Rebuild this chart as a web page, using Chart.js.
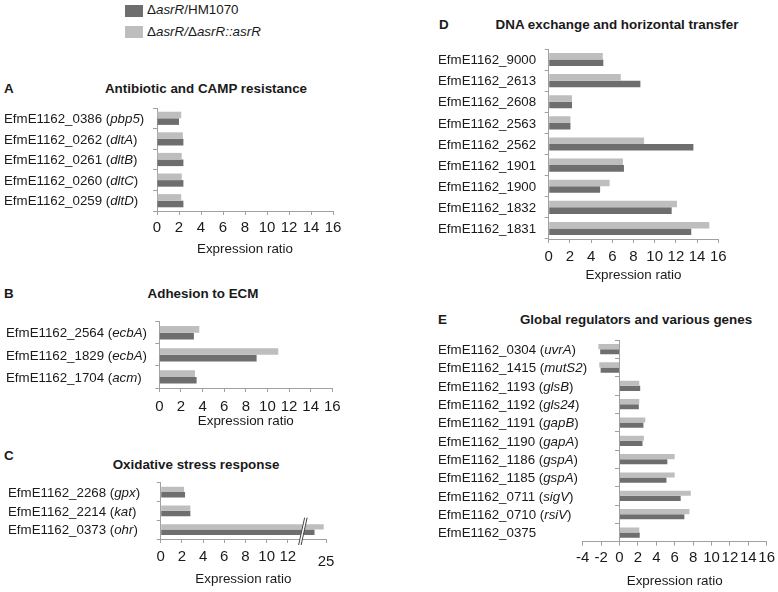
<!DOCTYPE html>
<html>
<head>
<meta charset="utf-8">
<script src="https://cdn.jsdelivr.net/npm/chart.js@4"></script>
<style>
  body { margin: 0; background: #fff; }
  #page { position: relative; width: 778px; height: 592px; overflow: hidden; font-family: "Liberation Sans", Arial, sans-serif; color: #1a1a1a; }
  #page canvas { position: absolute; }
  .t { position: absolute; font-size: 13.4px; font-weight: bold; white-space: nowrap; line-height: 16px; }
  .c { transform: translateX(-50%); }
  .sw { position: absolute; width: 18px; height: 12px; }
  .lg { position: absolute; font-size: 13.4px; line-height: 16px; white-space: nowrap; }
</style>
</head>
<body>
<div id="page">
  <div class="sw" style="left:125px;top:5px;background:#6e6e6e"></div>
  <div class="lg" style="left:147px;top:2px">&Delta;<i>asrR</i>/HM1070</div>
  <div class="sw" style="left:125px;top:26px;background:#bebebe"></div>
  <div class="lg" style="left:147px;top:24px">&Delta;<i>asrR/</i>&Delta;<i>asrR::asrR</i></div>

  <div class="t" style="left:4px;top:81px">A</div>
  <div class="t c" style="left:206px;top:81px">Antibiotic and CAMP resistance</div>
  <div class="t" style="left:4px;top:286px">B</div>
  <div class="t c" style="left:203px;top:286px">Adhesion to ECM</div>
  <div class="t" style="left:4px;top:448px">C</div>
  <div class="t c" style="left:196px;top:457px">Oxidative stress response</div>
  <div class="t" style="left:439px;top:17px">D</div>
  <div class="t c" style="left:617px;top:17px">DNA exchange and horizontal transfer</div>
  <div class="t" style="left:438px;top:312px">E</div>
  <div class="t c" style="left:636px;top:312px">Global regulators and various genes</div>

  <canvas id="chartA"></canvas>
  <canvas id="chartB"></canvas>
  <canvas id="chartC"></canvas>
  <canvas id="chartD"></canvas>
  <canvas id="chartE"></canvas>
</div>
<script>
// dark bars: ΔasrR/HM1070, light bars: ΔasrR/ΔasrR::asrR

const aGenes = ['EfmE1162_0386 (pbp5)', 'EfmE1162_0262 (dltA)', 'EfmE1162_0261 (dltB)', 'EfmE1162_0260 (dltC)', 'EfmE1162_0259 (dltD)'];
const aVsWildType = [2.0, 2.4, 2.4, 2.4, 2.4];
const aVsComplemented = [2.2, 2.35, 2.25, 2.25, 2.2];

const bGenes = ['EfmE1162_2564 (ecbA)', 'EfmE1162_1829 (ecbA)', 'EfmE1162_1704 (acm)'];
const bVsWildType = [3.2, 9.0, 3.45];
const bVsComplemented = [3.7, 11.0, 3.3];

const cGenes = ['EfmE1162_2268 (gpx)', 'EfmE1162_2214 (kat)', 'EfmE1162_0373 (ohr)'];
const cVsWildType = [2.3, 2.8, 20];
const cVsComplemented = [2.2, 2.8, 24];
const cTickValues = [0, 2, 4, 6, 8, 10, 12, 25];

const dGenes = ['EfmE1162_9000', 'EfmE1162_2613', 'EfmE1162_2608', 'EfmE1162_2563', 'EfmE1162_2562',
  'EfmE1162_1901', 'EfmE1162_1900', 'EfmE1162_1832', 'EfmE1162_1831'];
const dVsWildType = [5.15, 8.65, 2.2, 2.05, 13.65, 7.1, 4.85, 11.6, 13.45];
const dVsComplemented = [5.1, 6.8, 2.2, 2.05, 9.0, 7.0, 5.75, 12.1, 15.15];

const eGenes = ['EfmE1162_0304 (uvrA)', 'EfmE1162_1415 (mutS2)', 'EfmE1162_1193 (glsB)', 'EfmE1162_1192 (gls24)',
  'EfmE1162_1191 (gapB)', 'EfmE1162_1190 (gapA)', 'EfmE1162_1186 (gspA)', 'EfmE1162_1185 (gspA)',
  'EfmE1162_0711 (sigV)', 'EfmE1162_0710 (rsiV)', 'EfmE1162_0375'];
const eVsWildType = [-2.1, -2.05, 2.25, 2.1, 2.6, 2.5, 5.2, 5.1, 6.65, 7.05, 2.2];
const eVsComplemented = [-2.3, -2.2, 2.15, 2.15, 2.8, 2.65, 6.0, 6.0, 7.75, 7.6, 2.15];

const DARK = '#6e6e6e';
const LIGHT = '#bebebe';
const AXIS = '#a0a0a0';
const TEXT = '#1a1a1a';
const FAMILY = '"Liberation Sans", Arial, sans-serif';

Chart.defaults.font.family = FAMILY;
Chart.defaults.color = TEXT;

// panel C has a broken axis: above 13 the scale is squeezed so 25 sits at the end
const C_BREAK = 13, C_END = 25, C_AXIS_MAX = 15.6;
function toAxisC(v) {
  return v <= C_BREAK ? v : C_BREAK + (v - C_BREAK) * (C_AXIS_MAX - C_BREAK) / (C_END - C_BREAK);
}

const geneLabels = {
  id: 'geneLabels',
  afterDraw(chart, args, opts) {
    const ctx = chart.ctx, y = chart.scales.y;
    ctx.save();
    ctx.fillStyle = TEXT;
    ctx.textBaseline = 'middle';
    ctx.textAlign = 'left';
    chart.data.labels.forEach((lab, i) => {
      const py = y.getPixelForValue(i) + 1;
      const m = lab.match(/^(.*\()(.*)(\))$/);
      const parts = m ? [[m[1], false], [m[2], true], [m[3], false]] : [[lab, false]];
      let px = opts.x;
      parts.forEach(([txt, it]) => {
        ctx.font = (it ? 'italic ' : '') + '13.3px ' + FAMILY;
        ctx.fillText(txt, px, py);
        px += ctx.measureText(txt).width;
      });
    });
    ctx.restore();
  }
};

// the "//" break marks and the end label (25), which sits a little lower than the others
const axisBreak = {
  id: 'axisBreak',
  afterDatasetsDraw(chart) {
    const {ctx, scales: {x, y}, chartArea} = chart;
    const bx = x.getPixelForValue(13.3);
    const yTop = y.getPixelForValue(cGenes.length - 1) - 12;
    const yBot = chartArea.bottom + 6;
    const lean = 3;
    ctx.save();
    ctx.fillStyle = '#fff';
    ctx.beginPath();
    ctx.moveTo(bx + lean, yTop);
    ctx.lineTo(bx + lean + 2.5, yTop);
    ctx.lineTo(bx - lean + 2.5, yBot);
    ctx.lineTo(bx - lean, yBot);
    ctx.closePath();
    ctx.fill();
    ctx.strokeStyle = '#444';
    ctx.lineWidth = 1;
    [0, 2.5].forEach(dx => {
      ctx.beginPath();
      ctx.moveTo(bx + lean + dx, yTop);
      ctx.lineTo(bx - lean + dx, yBot);
      ctx.stroke();
    });
    const last = cTickValues[cTickValues.length - 1];
    ctx.fillStyle = TEXT;
    ctx.font = '15px ' + FAMILY;
    ctx.textAlign = 'center';
    ctx.textBaseline = 'middle';
    ctx.fillText(String(last), x.getPixelForValue(toAxisC(last)), chartArea.bottom + 23);
    ctx.restore();
  }
};

function panel(id, p) {
  const canvas = document.getElementById(id);
  const left = Math.floor(p.labelX) - 2;
  const top = Math.floor(p.T) - 4;
  const axisH = p.titleGap + 8.1;
  const width = Math.ceil(p.R) + 16 - left;
  const height = Math.ceil(p.B + axisH) + 3 - top;
  canvas.width = width;
  canvas.height = height;
  canvas.style.left = left + 'px';
  canvas.style.top = top + 'px';
  const yW = p.zeroAxis ? 0 : 6;

  const xScale = {
    type: 'linear',
    min: p.min,
    max: p.max,
    ticks: { stepSize: 2, padding: p.tickPad, font: { size: 15 }, color: TEXT, autoSkip: false, maxRotation: 0 },
    grid: { display: true, drawOnChartArea: false, drawTicks: true, tickLength: 4, color: AXIS },
    border: { display: true, color: AXIS },
    title: { display: true, text: 'Expression ratio', color: TEXT, font: { size: 13.4 }, padding: 0 },
    afterFit(s) { s.height = axisH; }
  };
  if (p.tickValues) {
    xScale.afterBuildTicks = s => { s.ticks = p.tickValues.map(v => ({ value: toAxisC(v) })); };
    xScale.ticks.callback = (v, i) => (i === p.tickValues.length - 1 ? '' : p.tickValues[i]);
  }

  new Chart(canvas, {
    type: 'bar',
    data: {
      labels: p.labels,
      datasets: [
        { label: 'ΔasrR/ΔasrR::asrR', data: p.light, backgroundColor: LIGHT },
        { label: 'ΔasrR/HM1070', data: p.dark, backgroundColor: DARK }
      ]
    },
    options: {
      indexAxis: 'y',
      responsive: false,
      animation: false,
      devicePixelRatio: 1,
      datasets: { bar: { categoryPercentage: p.catPct, barPercentage: 1 } },
      layout: { padding: { left: p.L - left - yW, top: p.T - top, right: left + width - p.R, bottom: top + height - p.B - axisH } },
      plugins: { legend: { display: false }, tooltip: { enabled: false }, geneLabels: { x: p.labelX - left } },
      scales: {
        x: xScale,
        y: {
          position: p.zeroAxis ? { x: 0 } : 'left',
          ticks: { display: false },
          grid: { display: true, drawOnChartArea: false, drawTicks: true, tickLength: 4, color: AXIS, offset: true },
          border: { display: true, color: AXIS },
          afterFit(s) { s.width = yW; }
        }
      }
    },
    plugins: [geneLabels].concat(p.extra || [])
  });
}

panel('chartA', { L: 157, R: 333, T: 108, B: 211, labelX: 4, tickPad: 4, titleGap: 38, min: 0, max: 16, catPct: 0.64,
  labels: aGenes, light: aVsComplemented, dark: aVsWildType });
panel('chartB', { L: 159.3, R: 332.3, T: 321.7, B: 388, labelX: 6, tickPad: 6, titleGap: 33, min: 0, max: 16, catPct: 0.6,
  labels: bGenes, light: bVsComplemented, dark: bVsWildType });
panel('chartC', { L: 160.7, R: 326, T: 482.7, B: 539, labelX: 8, tickPad: 4.7, titleGap: 40, min: 0, max: C_AXIS_MAX, catPct: 0.57,
  labels: cGenes, light: cVsComplemented.map(toAxisC), dark: cVsWildType.map(toAxisC), tickValues: cTickValues, extra: [axisBreak] });
panel('chartD', { L: 548.7, R: 718.3, T: 49, B: 239, labelX: 438, tickPad: 4.7, titleGap: 36, min: 0, max: 16, catPct: 0.62,
  labels: dGenes, light: dVsComplemented, dark: dVsWildType });
panel('chartE', { L: 582.7, R: 766.7, T: 340, B: 541.7, labelX: 438, tickPad: 3, titleGap: 40, min: -4, max: 16, catPct: 0.56,
  labels: eGenes, light: eVsComplemented, dark: eVsWildType, zeroAxis: true });
</script>
</body>
</html>
